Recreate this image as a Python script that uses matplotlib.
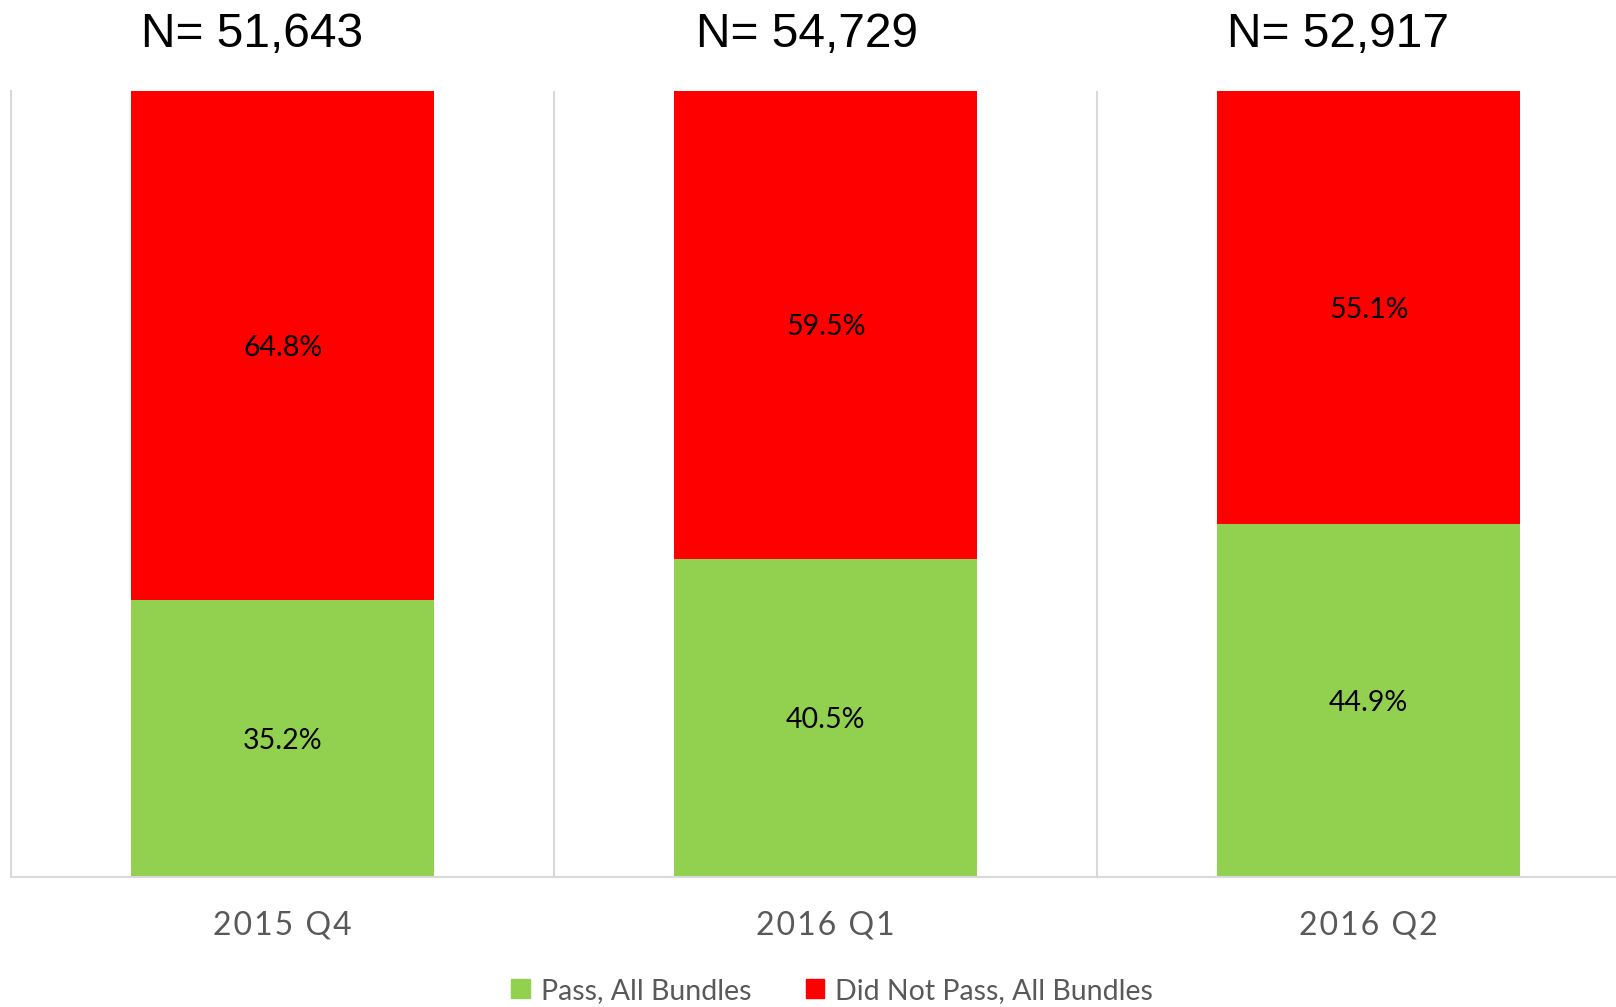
import matplotlib.pyplot as plt
from matplotlib.patches import Patch
from matplotlib.transforms import blended_transform_factory

categories = ["2015 Q4", "2016 Q1", "2016 Q2"]
n_labels = ["N= 51,643", "N= 54,729", "N= 52,917"]
pass_pct = [35.2, 40.5, 44.9]
fail_pct = [64.8, 59.5, 55.1]

green = "#92D050"
red = "#FF0000"
grey = "#595959"
grid = "#D9D9D9"

fig = plt.figure(figsize=(16.16, 10.07), dpi=100)
ax = fig.add_axes([0.007, 0.129, 1.008, 0.781])

x = list(range(len(categories)))
w = 0.558
ax.bar(x, pass_pct, width=w, color=green, zorder=2)
ax.bar(x, fail_pct, width=w, bottom=pass_pct, color=red, zorder=2)

for i in x:
    ax.text(i, pass_pct[i] / 2 - 0.3, f"{pass_pct[i]:.1f}%", ha="center", va="center",
            fontsize=20.5, family="Lato", color="black")
    ax.text(i, pass_pct[i] + fail_pct[i] / 2 - 0.3, f"{fail_pct[i]:.1f}%", ha="center",
            va="center", fontsize=20.5, family="Lato", color="black")

ax.set_xlim(-0.5, 2.5)
ax.set_ylim(0, 100)

# category separators
for s in [0.5, 1.5]:
    ax.axvline(s, color=grid, lw=1.5, zorder=1)
for side in ["top", "right"]:
    ax.spines[side].set_visible(False)
ax.spines["left"].set_color(grid)
ax.spines["left"].set_linewidth(1.5)
ax.spines["bottom"].set_color(grid)
ax.spines["bottom"].set_linewidth(1.5)
ax.set_xticks([])
ax.set_yticks([])

tr = blended_transform_factory(ax.transData, ax.transAxes)
n_shift = [-0.057, -0.035, -0.057]
for i in x:
    ax.text(i + n_shift[i], 1.072, n_labels[i], transform=tr, ha="center", va="center",
            fontsize=34.5, family="Liberation Sans", color="black")
    ax.text(i, -0.061, "\u200a".join(categories[i]), transform=tr,
            ha="center", va="center", fontsize=23, family="Lato", color=grey)

handles = [Patch(color=green, label="Pass, All Bundles"),
           Patch(color=red, label="Did Not Pass, All Bundles")]
fig.legend(handles=handles, loc="center", bbox_to_anchor=(0.515, 0.016), ncol=2,
           frameon=False, prop={"family": "Lato", "size": 20.5}, labelcolor=grey,
           handlelength=0.65, handleheight=0.65, handletextpad=0.4, columnspacing=1.9)

fig.savefig("out.png", dpi=100)
